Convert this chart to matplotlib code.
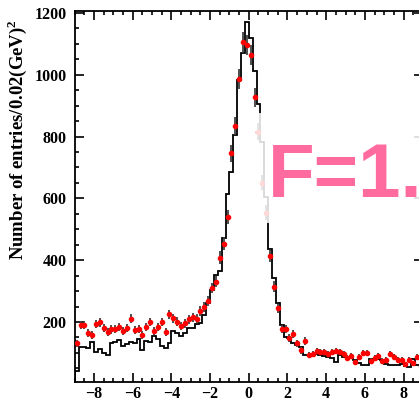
import numpy as np
import matplotlib
matplotlib.use('Agg')
from matplotlib import pyplot as plt
from matplotlib.patches import Rectangle
from matplotlib.ticker import MultipleLocator

# bin edges: 90 bins of width 0.2 between -9 and 9
edges = np.round(np.arange(-9.0, 9.01, 0.2), 1)
centers = 0.5 * (edges[:-1] + edges[1:])

# measured entries (points with errors)
data = [131, 190, 190, 165, 157, 193, 199, 181, 167, 176,
        177, 184, 172, 181, 210, 174, 177, 158, 183, 200,
        172, 184, 200, 167, 225, 212, 201, 187, 196, 209,
        215, 210, 236, 248, 269, 310, 330, 408, 453, 540,
        746, 835, 986, 1105, 1096, 1064, 927, 816, 651, 554,
        414, 314, 244, 177, 177, 148, 160, 131, 108, 139,
        93, 96, 107, 104, 102, 95, 102, 107, 103, 97,
        85, 91, 70, 87, 101, 99, 75, 83, 90, 75,
        77, 96, 86, 77, 77, 63, 77, 66, 86, 59]

# simulated histogram
mc = [40, 120, 120, 117, 136, 104, 112, 99, 93, 133,
      136, 142, 123, 129, 136, 133, 144, 109, 139, 136,
      155, 144, 122, 115, 131, 171, 165, 155, 163, 180,
      182, 194, 198, 223, 262, 304, 352, 366, 471, 615,
      685, 805, 983, 1070, 1172, 1118, 1012, 905, 783, 603,
      436, 342, 260, 190, 150, 147, 131, 126, 120, 92,
      92, 92, 95, 92, 90, 88, 85, 70, 92, 88,
      80, 82, 78, 66, 62, 60, 80, 78, 80, 78,
      65, 60, 62, 62, 63, 57, 55, 80, 62, 60]

ylabel = r'Number of entries/0.02(GeV)$^{\mathbf{2}}$'
xticks = [-8, -6, -4, -2, 0, 2, 4, 6, 8]
yticks = [200, 400, 600, 800, 1000, 1200]

plt.rcParams['font.family'] = ['Liberation Serif', 'DejaVu Serif']
plt.rcParams['font.weight'] = 'bold'
plt.rcParams['mathtext.fontset'] = 'custom'
plt.rcParams['mathtext.bf'] = 'Liberation Serif:bold'
plt.rcParams['mathtext.rm'] = 'Liberation Serif:bold'

fig = plt.figure(figsize=(4.19, 4.03), dpi=100)
ax = fig.add_axes([74.7 / 419, 0.0529, 348.2 / 419, 0.9198])

ax.stairs(mc, edges, color='black', lw=1.3, zorder=2)
data = np.array(data, dtype=float)
ax.errorbar(centers, data, yerr=np.sqrt(data), fmt='o', color='red',
            ms=3.0, mec='red', ecolor='0.25', elinewidth=1.3, capsize=0, zorder=3)

ax.set_xlim(-9, 9)
ax.set_ylim(7, 1206)
ax.set_xticks(xticks)
ax.set_yticks(yticks)
ax.xaxis.set_minor_locator(MultipleLocator(0.5))
ax.yaxis.set_minor_locator(MultipleLocator(50))
ax.tick_params(which='both', direction='in', top=True, right=True,
               labelsize=11.5, width=1.2)
ax.tick_params(axis='y', pad=6)
ax.tick_params(axis='x', pad=3)
ax.tick_params(which='major', length=6.5)
ax.tick_params(which='minor', length=3.2)
for s in ax.spines.values():
    s.set_linewidth(1.3)
for lab in ax.get_xticklabels() + ax.get_yticklabels():
    lab.set_fontweight('bold')

ax.set_ylabel(ylabel, fontsize=13.5, fontweight='bold', va='center')
ax.yaxis.set_label_coords(-0.166, 0.652)

# semi-opaque pad behind the fit label
ax.add_patch(Rectangle((0.37, 520), 10, 356, facecolor='white', alpha=0.85,
                       edgecolor='none', zorder=5))
ax.text(1.0, 604, 'F=1.', color='#ff6a9f', fontsize=55, fontweight='bold',
        family='Liberation Sans', ha='left', va='baseline', zorder=6,
        clip_on=False)

fig.savefig('out.png', dpi=100)
